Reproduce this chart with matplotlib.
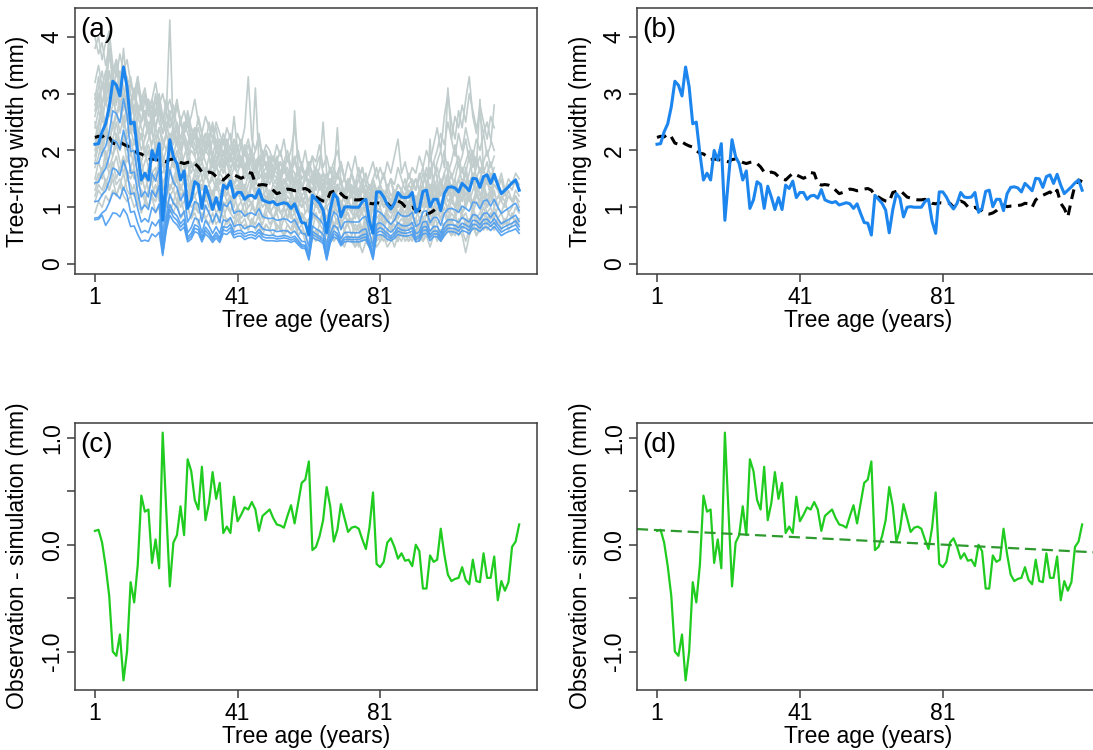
import numpy as np
import matplotlib
matplotlib.use("Agg")
import matplotlib.pyplot as plt

plt.rcParams['font.family'] = ['Liberation Sans', 'DejaVu Sans']

# ---------------- data ----------------
x_ticks = [1, 41, 81]
x_tick_labels = ["1", "41", "81"]
xlabel = "Tree age (years)"
ylabel_top = "Tree-ring width (mm)"
ylabel_bottom = "Observation - simulation (mm)"
panel_labels = ["(a)", "(b)", "(c)", "(d)"]

# observed (thick blue) tree-ring width, ages 1..120
obs_width = [2.11, 2.12, 2.33, 2.47, 2.77, 3.22, 3.15, 2.96, 3.47, 3.12,
             2.47, 2.50, 1.95, 1.48, 1.60, 1.48, 2.00, 1.83, 2.12, 0.77,
             1.50, 2.19, 1.89, 1.77, 1.48, 1.64, 0.98, 1.13, 1.45, 1.40,
             0.98, 1.37, 1.18, 0.96, 1.17, 0.96, 1.39, 1.33, 1.46, 1.17,
             1.26, 1.26, 1.14, 1.20, 1.21, 1.16, 1.31, 1.13, 1.10, 1.08,
             1.10, 1.04, 1.06, 1.08, 1.06, 0.98, 1.06, 0.89, 0.73, 0.72,
             0.51, 1.21, 1.14, 1.07, 0.95, 0.55, 0.96, 1.24, 1.16, 0.83,
             1.00, 1.01, 1.00, 1.00, 1.00, 1.10, 1.14, 0.75, 0.54, 1.27,
             1.27, 1.18, 1.05, 0.97, 1.07, 1.26, 1.18, 1.17, 1.18, 1.26,
             0.91, 0.98, 1.28, 1.30, 1.01, 1.14, 1.14, 0.94, 1.24, 1.35,
             1.36, 1.34, 1.27, 1.42, 1.36, 1.29, 1.51, 1.50, 1.35, 1.54,
             1.57, 1.42, 1.58, 1.39, 1.24, 1.30, 1.36, 1.43, 1.48, 1.30]

# dashed black curve
sim_width = [2.23, 2.25, 2.24, 2.29, 2.24, 2.13, 2.11, 2.15, 2.11, 2.08,
             2.06, 2.00, 1.95, 1.94, 1.89, 1.84, 1.85, 1.84, 1.83, 1.82,
             1.80, 1.84, 1.85, 1.82, 1.79, 1.77, 1.79, 1.80, 1.77, 1.71,
             1.62, 1.60, 1.62, 1.60, 1.54, 1.51, 1.48, 1.54, 1.60, 1.57,
             1.54, 1.51, 1.54, 1.61, 1.60, 1.42, 1.39, 1.40, 1.39, 1.36,
             1.30, 1.24, 1.26, 1.30, 1.32, 1.31, 1.29, 1.30, 1.32, 1.33,
             1.30, 1.21, 1.18, 1.14, 1.11, 1.10, 1.26, 1.28, 1.30, 1.24,
             1.18, 1.16, 1.14, 1.13, 1.13, 1.14, 1.11, 1.07, 1.06, 1.08,
             1.07, 1.08, 1.07, 1.00, 1.04, 1.11, 1.08, 1.01, 0.98, 1.00,
             0.95, 0.94, 0.89, 0.88, 0.90, 0.94, 1.00, 1.04, 1.01, 1.02,
             1.02, 1.03, 1.04, 1.07, 1.06, 1.00, 1.13, 1.18, 1.21, 1.24,
             1.27, 1.21, 1.30, 1.07, 0.98, 0.83, 1.13, 1.39, 1.48, 1.45]
sim_len_panel_a = 98

# residuals (green)
residual = [0.13, 0.14, 0.02, -0.20, -0.48, -1.00, -1.04, -0.84, -1.27, -1.00,
            -0.35, -0.54, -0.19, 0.46, 0.31, 0.33, -0.17, 0.05, -0.22, 1.05,
            0.32, -0.39, 0.02, 0.09, 0.36, 0.09, 0.80, 0.69, 0.42, 0.33,
            0.73, 0.23, 0.39, 0.68, 0.43, 0.58, 0.11, 0.17, 0.11, 0.45,
            0.22, 0.28, 0.35, 0.33, 0.40, 0.33, 0.13, 0.27, 0.30, 0.33,
            0.25, 0.19, 0.18, 0.16, 0.27, 0.37, 0.20, 0.39, 0.58, 0.61,
            0.78, -0.05, -0.02, 0.08, 0.23, 0.54, 0.36, 0.03, 0.14, 0.38,
            0.25, 0.12, 0.16, 0.17, 0.15, 0.05, -0.04, 0.16, 0.49, -0.18,
            -0.21, -0.16, 0.02, 0.06, -0.02, -0.13, -0.08, -0.15, -0.14, -0.20,
            0.00, -0.06, -0.41, -0.41, -0.10, -0.16, -0.14, 0.15, -0.09, -0.28,
            -0.34, -0.32, -0.31, -0.21, -0.33, -0.37, -0.14, -0.34, -0.35, -0.08,
            -0.31, -0.31, -0.11, -0.52, -0.34, -0.43, -0.35, -0.02, 0.03, 0.19]

trend_intercept = 0.139
trend_slope = -0.0017

# thinner blue series (panel a)
blue_thin_1 = [1.77, 1.78, 1.96, 2.07, 2.33, 2.70, 2.65, 2.49, 2.91, 2.62,
               1.98, 2.00, 1.56, 1.18, 1.28, 1.18, 1.60, 1.46, 1.70, 0.45,
               1.14, 1.66, 1.44, 1.35, 1.12, 1.25, 0.74, 0.86, 1.10, 1.06,
               0.74, 1.04, 0.90, 0.73, 0.89, 0.73, 1.06, 1.01, 1.11, 0.89,
               0.93, 0.93, 0.84, 0.89, 0.90, 0.86, 0.97, 0.84, 0.81, 0.80,
               0.81, 0.77, 0.78, 0.80, 0.78, 0.73, 0.78, 0.66, 0.54, 0.53,
               0.30, 0.90, 0.84, 0.79, 0.70, 0.30, 0.71, 0.92, 0.86, 0.61,
               0.74, 0.75, 0.74, 0.74, 0.74, 0.81, 0.84, 0.56, 0.30, 0.94,
               0.91, 0.85, 0.76, 0.70, 0.77, 0.91, 0.85, 0.84, 0.85, 0.91,
               0.66, 0.71, 0.92, 0.94, 0.73, 0.82, 0.82, 0.68, 0.89, 0.97,
               0.98, 0.96, 0.91, 1.02, 0.98, 0.93, 1.09, 1.08, 0.97, 1.11,
               1.13, 1.02, 1.14, 1.00, 0.89, 0.94, 0.98, 1.03, 1.07, 0.94]
blue_thin_2 = [1.43, 1.44, 1.59, 1.68, 1.89, 2.19, 2.15, 2.02, 2.36, 2.12,
               1.60, 1.62, 1.26, 0.96, 1.04, 0.96, 1.30, 1.18, 1.38, 0.30,
               0.84, 1.23, 1.07, 1.00, 0.83, 0.93, 0.55, 0.64, 0.81, 0.78,
               0.55, 0.77, 0.67, 0.54, 0.66, 0.54, 0.78, 0.75, 0.82, 0.66,
               0.69, 0.69, 0.62, 0.66, 0.67, 0.64, 0.72, 0.62, 0.60, 0.59,
               0.60, 0.57, 0.58, 0.59, 0.58, 0.54, 0.58, 0.49, 0.40, 0.39,
               0.20, 0.67, 0.62, 0.58, 0.52, 0.20, 0.53, 0.68, 0.64, 0.45,
               0.55, 0.56, 0.55, 0.55, 0.55, 0.60, 0.62, 0.41, 0.20, 0.70,
               0.73, 0.68, 0.61, 0.56, 0.62, 0.73, 0.68, 0.67, 0.68, 0.73,
               0.53, 0.57, 0.74, 0.75, 0.58, 0.66, 0.66, 0.54, 0.71, 0.78,
               0.78, 0.77, 0.73, 0.82, 0.78, 0.74, 0.87, 0.86, 0.78, 0.89,
               0.90, 0.82, 0.91, 0.80, 0.71, 0.75, 0.78, 0.82, 0.86, 0.75]
blue_thin_3 = [1.10, 1.11, 1.22, 1.29, 1.46, 1.69, 1.66, 1.56, 1.82, 1.63,
               1.23, 1.25, 0.97, 0.74, 0.80, 0.74, 1.00, 0.91, 1.06, 0.22,
               0.71, 1.05, 0.91, 0.85, 0.71, 0.79, 0.47, 0.54, 0.69, 0.66,
               0.47, 0.65, 0.57, 0.46, 0.56, 0.46, 0.66, 0.64, 0.70, 0.56,
               0.59, 0.59, 0.53, 0.56, 0.57, 0.54, 0.61, 0.53, 0.51, 0.50,
               0.51, 0.48, 0.49, 0.50, 0.49, 0.46, 0.49, 0.42, 0.34, 0.33,
               0.12, 0.57, 0.53, 0.49, 0.44, 0.12, 0.45, 0.58, 0.54, 0.38,
               0.47, 0.48, 0.47, 0.47, 0.47, 0.51, 0.53, 0.35, 0.14, 0.60,
               0.64, 0.60, 0.54, 0.49, 0.55, 0.64, 0.60, 0.59, 0.60, 0.64,
               0.47, 0.50, 0.65, 0.66, 0.51, 0.58, 0.58, 0.48, 0.62, 0.69,
               0.69, 0.68, 0.64, 0.72, 0.69, 0.65, 0.77, 0.76, 0.69, 0.78,
               0.79, 0.72, 0.80, 0.70, 0.62, 0.66, 0.69, 0.72, 0.76, 0.66]
blue_thin_4 = [0.81, 0.82, 0.90, 0.95, 1.08, 1.25, 1.23, 1.15, 1.35, 1.21,
               0.91, 0.93, 0.72, 0.55, 0.59, 0.55, 0.74, 0.67, 0.78, 0.18,
               0.65, 0.96, 0.83, 0.77, 0.65, 0.72, 0.43, 0.49, 0.63, 0.60,
               0.43, 0.59, 0.52, 0.42, 0.51, 0.42, 0.60, 0.58, 0.64, 0.51,
               0.54, 0.54, 0.48, 0.51, 0.52, 0.49, 0.56, 0.48, 0.46, 0.46,
               0.46, 0.44, 0.45, 0.46, 0.45, 0.42, 0.45, 0.38, 0.31, 0.30,
               0.09, 0.52, 0.48, 0.45, 0.40, 0.09, 0.41, 0.53, 0.49, 0.35,
               0.43, 0.44, 0.43, 0.43, 0.43, 0.46, 0.48, 0.32, 0.10, 0.55,
               0.58, 0.55, 0.49, 0.45, 0.50, 0.58, 0.55, 0.54, 0.55, 0.58,
               0.43, 0.46, 0.59, 0.60, 0.46, 0.53, 0.53, 0.44, 0.56, 0.63,
               0.63, 0.62, 0.58, 0.66, 0.63, 0.59, 0.70, 0.69, 0.63, 0.71,
               0.72, 0.66, 0.73, 0.64, 0.56, 0.60, 0.63, 0.66, 0.69, 0.60]
blue_thin_5 = [0.78, 0.79, 0.86, 0.68, 0.78, 0.90, 0.89, 0.83, 0.97, 0.87,
               0.66, 0.67, 0.52, 0.40, 0.42, 0.40, 0.53, 0.48, 0.56, 0.15,
               0.59, 0.86, 0.75, 0.69, 0.59, 0.65, 0.39, 0.44, 0.57, 0.54,
               0.39, 0.53, 0.47, 0.38, 0.46, 0.38, 0.54, 0.52, 0.58, 0.46,
               0.49, 0.49, 0.43, 0.46, 0.47, 0.44, 0.50, 0.43, 0.41, 0.41,
               0.41, 0.40, 0.41, 0.41, 0.41, 0.38, 0.41, 0.34, 0.28, 0.27,
               0.07, 0.47, 0.43, 0.41, 0.36, 0.07, 0.37, 0.48, 0.44, 0.32,
               0.39, 0.40, 0.39, 0.39, 0.39, 0.41, 0.43, 0.29, 0.08, 0.50,
               0.52, 0.50, 0.44, 0.41, 0.45, 0.52, 0.50, 0.49, 0.50, 0.52,
               0.39, 0.41, 0.53, 0.54, 0.41, 0.48, 0.48, 0.40, 0.50, 0.57,
               0.57, 0.56, 0.52, 0.59, 0.57, 0.53, 0.63, 0.62, 0.57, 0.64,
               0.65, 0.59, 0.66, 0.58, 0.50, 0.54, 0.57, 0.59, 0.62, 0.54]

# grey individual series (panel a)
grey_01 = [3.8, 4.0, 3.6, 3.9, 4.1, 3.5, 3.3, 3.7, 3.4, 3.6, 3.2, 3.0, 3.3, 2.9, 3.1, 2.7, 2.9, 3.2, 2.8, 3.0,
           2.7, 2.9, 2.6, 2.8, 2.5, 2.7, 2.4, 2.6, 2.9, 2.5, 2.3, 2.6, 2.4, 2.2, 2.5, 2.3, 2.1, 2.4, 2.2, 2.0,
           2.3, 2.1, 2.4, 3.3, 2.2, 2.0, 2.3, 1.9, 2.1, 2.0, 1.8, 2.1, 1.9, 2.2, 1.8, 2.0, 2.4, 1.9, 1.7, 2.0,
           1.6, 1.9, 1.8, 2.1, 1.7, 1.9, 1.6, 1.8, 2.0, 1.7, 1.5, 1.8, 1.6, 1.9, 1.5, 1.7, 1.4, 1.6, 1.8, 1.5,
           1.7, 1.5, 1.8, 1.6, 1.9, 2.2, 1.6, 1.8, 1.5, 1.7, 1.6, 1.9, 1.7, 2.0, 1.8, 2.1, 2.4, 2.0, 2.6, 3.0,
           2.5, 2.2, 2.7, 2.4, 2.9, 3.3, 2.6, 2.3, 2.8, 2.5, 2.2, 2.6, 2.4]
grey_02 = [3.2, 3.5, 3.1, 3.4, 3.0, 3.3, 3.6, 3.2, 2.9, 3.3, 3.0, 2.7, 3.1, 2.8, 2.6, 2.9, 2.5, 2.7, 3.0, 2.6,
           2.4, 2.7, 2.3, 2.5, 2.2, 2.4, 2.6, 2.2, 2.4, 2.1, 2.3, 2.0, 2.2, 2.4, 2.0, 2.2, 1.9, 2.1, 2.3, 1.9,
           2.1, 1.8, 2.0, 2.2, 1.9, 3.1, 1.8, 2.0, 1.7, 1.9, 1.7, 1.9, 1.6, 1.8, 2.0, 1.7, 1.9, 1.6, 1.8, 1.5,
           1.7, 1.9, 1.5, 1.7, 2.5, 1.6, 1.4, 1.7, 1.5, 1.8, 1.5, 1.3, 1.6, 1.4, 1.7, 1.4, 1.6, 1.3, 1.5, 1.7,
           1.4, 1.6, 1.3, 1.5, 1.4, 1.7, 1.5, 1.3, 1.6, 1.4, 1.5, 1.3, 1.6, 1.4, 1.7, 1.5, 1.8, 2.0, 1.7, 3.1,
           2.2, 1.9, 2.3, 2.0, 2.4, 2.1, 1.9, 2.2, 2.0, 2.3, 1.9, 2.1, 2.8]
grey_03 = [2.9, 3.3, 2.8, 3.1, 3.4, 2.9, 3.2, 2.8, 3.0, 2.7, 2.9, 2.6, 2.8, 2.5, 2.7, 2.4, 2.6, 2.9, 2.5, 2.3,
           2.6, 4.3, 2.2, 2.4, 2.1, 2.3, 2.5, 2.1, 2.0, 2.2, 1.9, 2.1, 2.3, 1.9, 1.8, 2.0, 2.2, 1.8, 1.9, 1.7,
           1.9, 1.8, 2.0, 1.7, 1.9, 1.6, 1.8, 1.7, 1.5, 1.8, 1.6, 1.7, 1.5, 1.8, 1.6, 1.4, 2.7, 1.7, 1.5, 1.6,
           1.4, 1.6, 1.5, 1.3, 1.6, 1.4, 1.5, 1.3, 1.6, 1.4, 1.2, 1.5, 1.3, 1.4, 1.2, 1.4, 1.3, 1.1, 1.4, 1.2,
           1.3, 1.1, 1.4, 1.2, 1.3, 1.1, 1.3, 1.2, 1.0, 1.3, 1.1, 1.3, 1.2, 1.4, 1.1, 1.3, 1.5, 1.2, 1.4, 1.6,
           1.3, 1.5, 1.2, 1.4, 1.6, 1.3, 1.5, 1.2, 1.4, 1.3, 1.5, 1.2, 1.4, 1.3, 1.5, 1.2, 1.4, 1.3, 1.5, 1.4]
grey_04 = [2.6, 2.9, 3.2, 2.8, 3.0, 3.4, 2.9, 3.1, 2.7, 3.0, 2.8, 3.1, 2.6, 2.9, 2.5, 2.8, 2.4, 2.7, 2.9, 2.5,
           2.3, 2.6, 2.8, 2.4, 2.2, 2.5, 2.3, 2.1, 2.4, 2.2, 2.0, 2.3, 2.1, 1.9, 2.2, 2.0, 1.8, 2.1, 1.9, 2.0,
           1.8, 2.1, 1.7, 1.9, 1.8, 1.6, 1.9, 1.7, 1.8, 1.6, 1.5, 1.8, 1.6, 1.7, 1.5, 1.7, 1.6, 1.4, 1.7, 1.5,
           1.6, 1.4, 1.7, 1.5, 1.3, 1.6, 1.4, 1.5, 2.4, 1.4, 1.3, 1.5, 1.2, 1.4, 1.3, 1.5, 1.2, 1.4, 1.3, 1.1,
           1.4, 1.2, 1.3, 1.5, 1.2, 1.4, 1.3, 1.2, 1.4, 1.5, 1.3, 1.6, 1.4, 1.7, 1.5, 1.8, 2.0, 2.3, 2.1, 2.5,
           2.2, 2.6, 2.4, 2.8, 2.5, 3.0, 2.7, 2.4, 2.6, 2.3, 2.5, 2.2, 2.0]
grey_05 = [2.4, 2.7, 2.5, 2.9, 2.6, 2.8, 3.1, 2.7, 2.5, 2.8, 2.5, 2.3, 2.6, 2.4, 2.2, 2.5, 2.3, 2.1, 2.4, 2.2,
           2.0, 2.3, 2.1, 2.4, 2.0, 2.2, 1.9, 2.1, 2.3, 1.9, 1.8, 2.0, 1.9, 1.7, 2.0, 1.8, 1.6, 1.9, 1.7, 1.8,
           1.6, 1.8, 1.5, 1.7, 1.6, 1.8, 1.5, 1.6, 1.4, 1.7, 1.5, 1.4, 1.6, 1.3, 1.5, 1.7, 1.4, 1.6, 1.3, 1.5,
           1.4, 1.2, 1.5, 1.3, 1.4, 1.6, 1.3, 1.2, 1.4, 1.3, 1.1, 1.3, 1.2, 1.4, 1.1, 1.3, 1.2, 1.0, 1.3, 1.1,
           1.2, 1.0, 1.3, 1.1, 1.2, 1.0, 1.2, 1.1, 1.3, 1.0, 1.2, 1.1, 1.3, 1.0, 1.2, 1.1, 1.4, 1.2, 1.3, 1.5,
           1.2, 1.4, 1.3, 1.5, 1.2, 1.4, 1.6, 1.3, 1.5, 1.4, 1.6, 1.3, 1.5, 1.4, 1.6, 1.3, 1.5, 1.4, 1.6, 1.5]
grey_06 = [2.2, 2.5, 2.8, 2.4, 2.7, 3.0, 2.6, 2.9, 2.5, 2.7, 2.4, 2.6, 2.3, 2.5, 2.7, 2.3, 2.1, 2.4, 2.2, 2.0,
           2.3, 2.1, 1.9, 2.2, 2.0, 2.2, 1.8, 2.0, 1.9, 1.7, 2.0, 1.8, 1.6, 1.9, 1.7, 1.8, 1.6, 1.8, 1.5, 1.7,
           1.6, 1.4, 1.7, 1.5, 1.6, 1.4, 1.6, 1.5, 1.3, 1.6, 1.4, 1.5, 1.3, 1.5, 1.4, 1.2, 1.5, 1.3, 1.4, 1.2,
           1.4, 1.3, 1.1, 1.4, 1.2, 1.3, 1.1, 1.3, 1.2, 1.0, 1.3, 1.1, 1.2, 1.0, 1.2, 1.1, 0.9, 1.2, 1.0, 1.1,
           1.0, 1.2, 0.9, 1.1, 1.0, 1.2, 0.9, 1.1, 1.0, 1.2, 1.1, 1.3, 1.0, 1.2, 1.4, 1.1, 1.3, 1.5, 1.2, 1.4,
           1.6, 1.3, 1.5, 1.7, 1.4, 1.6, 1.9, 1.5, 1.7, 1.4, 1.6, 1.8, 1.5]
grey_07 = [2.0, 2.3, 2.1, 2.5, 2.2, 2.4, 2.7, 2.3, 2.6, 2.2, 2.4, 2.1, 2.3, 2.0, 2.2, 2.4, 2.0, 1.9, 2.1, 1.8,
           2.0, 2.2, 1.8, 2.0, 1.7, 1.9, 2.1, 1.7, 1.8, 1.6, 1.8, 1.6, 1.9, 1.5, 1.7, 1.6, 1.8, 1.5, 1.6, 1.4,
           1.6, 1.5, 1.3, 1.6, 1.4, 1.5, 1.3, 1.5, 1.4, 1.2, 1.4, 1.3, 1.5, 1.2, 1.4, 1.3, 1.1, 1.4, 1.2, 1.3,
           1.1, 1.3, 1.2, 1.0, 1.3, 1.1, 1.2, 1.0, 1.2, 1.1, 0.9, 1.1, 1.0, 1.2, 0.9, 1.1, 1.0, 0.8, 1.1, 0.9,
           1.0, 0.8, 1.0, 0.9, 1.1, 0.9, 1.0, 0.8, 1.0, 0.9, 1.1, 0.9, 1.2, 1.0, 2.2, 1.1, 1.3, 1.0, 1.2, 1.4,
           1.1, 1.3, 1.0, 1.2, 1.4, 1.1, 1.3, 1.5, 1.2, 1.4, 1.1, 1.3, 1.2]
grey_08 = [2.1, 2.4, 2.8, 3.2, 4.1, 3.0, 2.6, 2.8, 2.4, 2.6, 2.3, 2.5, 2.1, 2.3, 2.0, 2.2, 2.4, 2.0, 2.2, 1.9,
           1.8, 2.0, 1.7, 1.9, 2.1, 1.7, 1.8, 1.6, 1.8, 1.5, 1.7, 1.5, 1.6, 1.8, 1.4, 1.6, 1.5, 1.3, 1.6, 1.4,
           1.5, 1.3, 1.4, 1.2, 1.5, 1.3, 1.4, 1.2, 1.3, 1.1, 1.3, 1.2, 1.4, 1.1, 1.3, 1.2, 1.0, 1.3, 1.1, 1.2,
           1.0, 1.2, 1.1, 0.9, 1.2, 1.0, 1.1, 0.9, 1.1, 1.0, 0.8, 1.0, 0.9, 1.1, 0.8, 1.0, 0.9, 0.7, 1.0, 0.8,
           0.9, 0.7, 0.9, 0.8, 1.0, 0.8, 0.9, 0.7, 0.9, 0.8, 1.0, 0.8, 0.9, 1.1, 0.9, 1.0, 1.2, 0.9, 1.1, 1.0,
           1.2, 1.0, 1.1, 1.3, 1.0, 1.2, 1.1, 1.3, 1.0, 1.2, 1.1, 1.3, 1.0, 1.2, 1.1, 1.0, 1.2, 1.1, 1.3, 1.2]
grey_09 = [1.8, 2.1, 1.9, 2.3, 2.0, 2.2, 2.5, 2.1, 2.3, 2.0, 2.2, 1.9, 2.1, 1.8, 2.0, 1.7, 1.9, 2.1, 1.7, 1.6,
           1.8, 1.6, 1.9, 1.5, 1.7, 1.6, 1.8, 1.4, 1.6, 1.5, 1.3, 1.6, 1.4, 1.5, 1.3, 1.5, 1.4, 1.2, 1.5, 1.3,
           1.4, 1.2, 1.3, 1.1, 1.4, 1.2, 1.3, 1.1, 1.2, 1.0, 1.2, 1.1, 1.3, 1.0, 1.2, 1.1, 0.9, 1.2, 1.0, 1.1,
           0.9, 1.1, 1.0, 1.2, 0.9, 1.0, 0.8, 1.1, 0.9, 1.0, 0.8, 0.9, 0.7, 1.0, 0.8, 0.9, 0.7, 0.9, 0.8, 0.6,
           0.9, 0.7, 0.8, 0.6, 0.9, 0.7, 0.8, 0.7, 0.9, 0.7, 0.8, 1.0, 0.8, 0.9, 1.1, 0.8, 1.0, 0.9, 1.2, 0.9,
           1.1, 1.0, 1.2, 0.9, 1.1, 1.3, 1.0, 1.2, 1.1, 1.3, 1.0, 1.2, 1.1]
grey_10 = [1.7, 1.9, 2.2, 1.8, 2.1, 1.9, 2.3, 2.0, 2.2, 1.8, 2.0, 1.7, 1.9, 1.6, 1.8, 2.0, 1.6, 1.7, 1.5, 1.8,
           1.5, 1.7, 1.4, 1.6, 1.8, 1.4, 1.5, 1.3, 1.6, 1.4, 1.5, 1.3, 1.4, 1.2, 1.5, 1.3, 1.2, 1.4, 1.1, 1.3,
           1.2, 1.4, 1.1, 1.2, 1.0, 1.3, 1.1, 1.2, 1.0, 1.2, 1.1, 0.9, 1.2, 1.0, 1.1, 0.9, 1.1, 1.0, 1.2, 0.9,
           1.0, 0.8, 1.1, 0.9, 1.0, 0.8, 1.0, 0.9, 0.7, 1.0, 0.8, 0.9, 0.7, 0.9, 0.8, 0.6, 0.9, 0.7, 0.8, 0.6,
           0.8, 0.7, 0.9, 0.6, 0.8, 0.7, 0.6, 0.8, 0.7, 0.9, 0.7, 0.8, 0.6, 0.9, 0.7, 0.8, 1.0, 0.8, 0.9, 0.7,
           0.9, 0.8, 1.0, 0.8, 0.9, 0.7, 1.0, 0.8, 0.9, 1.1, 0.9, 1.0, 0.8, 1.0, 0.9, 1.1, 0.9, 1.0, 1.2, 1.1]
grey_11 = [1.5, 1.8, 1.6, 2.0, 1.7, 1.9, 2.1, 1.8, 1.6, 1.9, 1.7, 1.9, 1.6, 1.8, 1.5, 1.7, 1.4, 1.6, 1.8, 1.4,
           1.6, 1.3, 1.5, 1.7, 1.3, 1.5, 1.4, 1.2, 1.5, 1.3, 1.4, 1.2, 1.3, 1.1, 1.4, 1.2, 1.3, 1.1, 1.2, 1.0,
           1.3, 1.1, 1.2, 1.0, 1.1, 0.9, 1.2, 1.0, 1.1, 0.9, 1.0, 1.2, 0.9, 1.0, 0.8, 1.1, 0.9, 1.0, 0.8, 0.9,
           1.0, 0.8, 0.9, 0.7, 1.0, 0.8, 0.9, 0.7, 0.8, 0.6, 0.9, 0.7, 0.8, 0.6, 0.7, 0.5, 0.8, 0.6, 0.7, 0.5,
           0.7, 0.6, 0.8, 0.6, 0.7, 0.5, 0.7, 0.6, 0.8, 0.6, 0.7, 0.5, 0.8, 0.6, 0.7, 0.9, 0.7, 0.8, 0.6, 0.8,
           0.7, 0.9, 0.6, 0.5, 0.2, 0.5, 0.9, 0.7, 0.8, 1.0, 0.8, 0.9, 0.7]
grey_12 = [1.4, 1.6, 1.5, 1.8, 1.6, 1.7, 1.9, 1.6, 1.8, 1.5, 1.7, 1.5, 1.6, 1.4, 1.6, 1.3, 1.5, 1.6, 1.3, 1.4,
           1.2, 1.4, 1.3, 1.5, 1.2, 1.3, 1.1, 1.4, 1.2, 1.3, 1.1, 1.2, 1.0, 1.3, 1.1, 1.2, 1.0, 1.1, 0.9, 1.2,
           1.0, 1.1, 0.9, 1.0, 1.1, 0.9, 1.0, 0.8, 1.0, 0.9, 0.8, 1.0, 0.9, 0.8, 1.0, 0.8, 0.9, 0.7, 0.9, 0.8,
           0.7, 0.9, 0.8, 0.7, 0.9, 0.7, 0.8, 0.6, 0.8, 0.7, 0.6, 0.8, 0.7, 0.5, 0.7, 0.6, 0.4, 0.7, 0.6, 0.5,
           0.7, 0.5, 0.6, 0.7, 0.5, 0.6, 0.5, 0.7, 0.6, 0.5, 0.6, 0.7, 0.5, 0.6, 0.8, 0.6, 0.7, 0.5, 0.7, 0.6,
           0.8, 0.6, 0.7, 0.9, 0.7, 0.8, 0.6, 0.8, 0.7, 0.9, 0.7, 0.8, 1.0, 0.8, 0.9, 0.7, 0.9, 0.8, 1.0, 0.9]
grey_13 = [1.2, 1.4, 1.3, 1.5, 1.3, 1.6, 1.4, 1.5, 1.3, 1.5, 1.4, 1.2, 1.4, 1.3, 1.1, 1.3, 1.2, 1.4, 1.1, 1.2,
           1.0, 1.2, 1.1, 1.3, 1.0, 1.1, 1.2, 1.0, 1.1, 0.9, 1.1, 1.0, 0.9, 1.1, 0.9, 1.0, 0.8, 1.0, 0.9, 0.8,
           1.0, 0.8, 0.9, 0.8, 0.7, 0.9, 0.8, 0.7, 0.9, 0.7, 0.8, 0.7, 0.6, 0.8, 0.7, 0.6, 0.8, 0.6, 0.7, 0.5,
           0.7, 0.6, 0.5, 0.7, 0.6, 0.7, 0.5, 0.6, 0.5, 0.4, 0.6, 0.5, 0.4, 0.5, 0.3, 0.5, 0.4, 0.3, 0.5, 0.4,
           0.5, 0.4, 0.6, 0.4, 0.5, 0.4, 0.6, 0.5, 0.4, 0.5, 0.4, 0.6, 0.4, 0.5, 0.3, 0.5, 0.6, 0.4, 0.5, 0.6,
           0.5, 0.7, 0.5, 0.6, 0.4, 0.6, 0.7, 0.5, 0.6, 0.8, 0.6, 0.7, 0.6]
grey_14 = [4.0, 3.7, 3.9, 3.5, 3.8, 3.4, 3.6, 3.2, 3.5, 3.1, 3.3, 2.9, 3.2, 2.8, 3.0, 2.7, 2.9, 2.6, 2.8, 2.5,
           2.7, 2.4, 2.6, 2.9, 2.5, 2.3, 2.5, 2.2, 2.4, 2.1, 2.3, 2.0, 2.2, 2.5, 2.1, 1.9, 2.2, 2.0, 1.8, 2.1,
           1.9, 1.7, 2.0, 1.8, 1.9, 1.7, 1.6, 1.9, 1.7, 1.8, 1.6, 1.5, 1.8, 1.6, 1.7, 1.5, 1.4, 1.7, 1.5, 1.6,
           1.4, 1.3, 1.6, 1.4, 1.5, 1.3, 1.5, 1.2, 1.4, 1.3, 1.2, 1.4, 1.2, 1.3, 1.1, 1.3, 1.2, 1.0, 1.3, 1.1,
           1.2, 1.0, 1.2, 1.1, 1.3, 1.0, 1.2, 1.1, 1.0, 1.2, 1.0, 1.1, 1.3, 1.0, 1.2, 1.4, 1.1, 1.3, 1.6, 1.2,
           1.4, 1.2, 1.5, 1.3, 1.7, 1.4, 1.6, 1.3, 1.5, 1.7, 1.4, 1.6, 1.5]
grey_15 = [2.7, 3.0, 2.6, 2.9, 3.2, 2.8, 3.5, 3.0, 3.8, 3.1, 2.8, 3.0, 2.6, 2.8, 2.5, 2.9, 2.6, 2.4, 2.7, 2.3,
           2.5, 2.2, 2.4, 2.1, 2.6, 2.2, 2.0, 2.3, 2.1, 1.9, 2.2, 2.0, 2.1, 1.8, 2.0, 1.9, 1.7, 2.0, 1.8, 1.9,
           1.7, 1.8, 1.6, 1.9, 1.7, 1.5, 1.8, 1.6, 1.7, 1.5, 1.7, 1.6, 1.4, 1.7, 1.5, 1.6, 1.4, 1.5, 1.3, 1.6,
           1.4, 1.5, 1.3, 1.5, 1.4, 1.2, 1.5, 1.3, 1.4, 1.2, 1.3, 1.1, 1.4, 1.2, 1.3, 1.1, 1.3, 1.0, 1.2, 1.1,
           1.3, 1.1, 1.2, 1.0, 1.2, 1.1, 1.3, 1.0, 1.1, 1.2, 1.0, 1.2, 1.4, 1.1, 1.3, 1.5, 1.2, 1.4, 1.3, 1.6,
           1.3, 1.5, 1.8, 1.4, 1.6, 1.9, 1.5, 1.7, 2.9, 1.6, 1.8, 1.5, 1.7]
grey_16 = [0.9, 1.1, 1.0, 1.2, 1.1, 1.3, 1.2, 1.4, 1.2, 1.1, 1.2, 1.0, 1.1, 0.9, 1.1, 1.0, 1.2, 0.9, 1.0, 0.9,
           0.8, 1.0, 0.9, 1.1, 0.8, 0.9, 1.0, 0.8, 0.9, 0.7, 0.9, 0.8, 0.7, 0.9, 0.7, 0.8, 0.6, 0.8, 0.7, 0.6,
           0.8, 0.6, 0.7, 0.6, 0.8, 0.6, 0.7, 0.5, 0.7, 0.6, 0.5, 0.7, 0.6, 0.5, 0.6, 0.5, 0.7, 0.5, 0.6, 0.4,
           0.6, 0.5, 0.4, 0.6, 0.5, 0.4, 0.6, 0.4, 0.5, 0.4, 0.3, 0.5, 0.4, 0.3, 0.4, 0.2, 0.4, 0.3, 0.5, 0.3,
           0.4, 0.5, 0.3, 0.4, 0.5, 0.4, 0.6, 0.4, 0.5, 0.4, 0.6, 0.5, 0.4, 0.6, 0.5, 0.7, 0.5, 0.6, 0.5, 0.7,
           0.6, 0.5, 0.7, 0.6, 0.8, 0.6, 0.7, 0.5, 0.7, 0.6, 0.8, 0.7, 0.6, 0.8, 0.7, 0.8, 0.6, 0.7, 0.8, 0.7]
grey_17 = [3.0, 2.7, 3.2, 2.9, 3.4, 3.1, 2.8, 3.3, 2.9, 3.2, 2.7, 3.0, 2.8, 2.5, 2.9, 2.6, 2.8, 2.4, 2.7, 2.5,
           2.3, 2.6, 2.4, 2.2, 2.5, 2.3, 2.1, 2.4, 2.2, 2.4, 2.1, 2.3, 1.9, 2.2, 2.0, 2.1, 1.9, 2.2, 2.0, 2.6,
           2.0, 1.8, 2.1, 1.9, 2.0, 1.8, 1.9, 1.7, 2.0, 1.8, 1.9, 1.7, 1.8, 1.6, 1.9, 1.7, 1.8, 1.6, 1.7, 1.5,
           1.8, 1.6, 1.7, 1.5, 1.6, 1.4, 1.7, 1.5, 1.6, 1.4, 1.5, 1.3, 1.6, 1.4, 1.5, 1.3, 1.4, 1.2, 1.5, 1.3,
           1.4, 1.2, 1.3, 1.5, 1.2, 1.4, 1.3, 1.2, 1.4, 1.3, 1.5, 1.3, 1.4, 1.6, 1.3, 1.5, 1.7, 1.4, 1.6, 1.8,
           1.5, 1.7, 1.9, 1.6, 1.8, 2.0, 1.7, 1.9, 1.6, 1.8, 2.0, 1.7, 1.9]
grey_18 = [1.3, 1.5, 1.7, 1.4, 1.6, 1.8, 1.5, 1.7, 1.9, 1.6, 1.5, 1.7, 1.4, 1.6, 1.3, 1.5, 1.4, 1.2, 1.5, 1.3,
           1.4, 1.2, 1.3, 1.1, 1.4, 1.2, 1.3, 1.1, 1.2, 1.0, 1.2, 1.1, 1.3, 1.0, 1.1, 0.9, 1.1, 1.0, 1.2, 0.9,
           1.0, 0.9, 1.1, 0.8, 1.0, 0.9, 1.1, 0.8, 0.9, 1.0, 0.8, 0.9, 0.7, 1.0, 0.8, 0.9, 0.7, 0.8, 0.9, 0.7,
           0.8, 0.6, 0.9, 0.7, 0.8, 0.6, 0.8, 0.7, 0.6, 0.8, 0.6, 0.7, 0.5, 0.7, 0.6, 0.4, 0.7, 0.5, 0.6, 0.5,
           0.7, 0.5, 0.6, 0.7, 0.5, 0.7, 0.6, 0.8, 0.6, 0.7, 0.8, 0.6, 0.8, 0.7, 0.9, 0.7, 0.9, 0.8, 1.0, 0.8,
           1.0, 0.9, 1.1, 0.9, 1.0, 1.2, 0.9, 1.1, 1.0, 1.2, 1.0, 1.1, 1.3, 1.0, 1.2, 1.1, 1.3, 1.1, 1.2, 1.0]
grey_19 = [2.5, 2.2, 2.6, 2.3, 2.8, 2.4, 2.6, 2.9, 2.5, 2.3, 2.6, 2.8, 2.4, 2.2, 2.5, 2.3, 2.7, 2.2, 2.4, 2.1,
           2.3, 2.0, 2.4, 2.1, 1.9, 2.2, 2.0, 2.3, 1.9, 2.1, 1.8, 2.0, 2.2, 1.8, 1.9, 1.7, 2.0, 1.8, 1.6, 1.9,
           1.7, 1.9, 1.6, 1.8, 1.5, 1.7, 1.9, 1.5, 1.6, 1.4, 1.6, 1.8, 1.5, 1.4, 1.6, 1.3, 1.5, 1.7, 1.4, 1.3,
           1.5, 1.2, 1.4, 1.6, 1.3, 1.2, 1.4, 1.1, 1.3, 1.5, 1.2, 1.1, 1.3, 1.0, 1.2, 1.4, 1.1, 0.9, 1.2, 1.0,
           1.1, 1.3, 1.0, 1.1, 0.9, 1.2, 1.0, 1.1, 0.9, 1.2, 1.0, 1.1, 1.3, 1.0, 1.2, 1.1, 1.3, 1.0, 1.2, 1.4,
           1.1, 1.3, 1.2, 1.4, 1.1, 1.3, 1.5, 1.2, 1.4, 1.3, 1.5, 1.2, 1.4, 1.3, 1.1, 1.3]
grey_20 = [1.9, 2.2, 2.0, 2.4, 2.1, 2.5, 2.2, 2.0, 2.3, 2.1, 1.9, 2.2, 2.0, 2.3, 1.9, 2.1, 1.8, 2.0, 2.2, 1.8,
           1.7, 2.0, 1.8, 1.6, 1.9, 1.7, 1.5, 1.8, 1.6, 1.9, 1.5, 1.7, 1.4, 1.6, 1.8, 1.4, 1.5, 1.3, 1.6, 1.4,
           1.3, 1.5, 1.2, 1.4, 1.6, 1.3, 1.2, 1.4, 1.1, 1.3, 1.2, 1.4, 1.1, 1.3, 1.0, 1.2, 1.4, 1.1, 1.0, 1.2,
           1.1, 1.3, 1.0, 1.2, 0.9, 1.1, 1.3, 1.0, 0.9, 1.1, 1.0, 1.2, 0.9, 0.8, 1.0, 0.9, 1.1, 0.8, 0.7, 1.0,
           0.9, 0.8, 1.0, 0.9, 1.1, 0.8, 1.0, 0.9, 1.1, 0.8, 1.0, 0.9, 1.1, 1.0, 1.2, 0.9, 1.1, 1.0, 1.3, 1.1,
           1.2, 1.0, 1.3, 1.1, 1.4, 1.2, 1.0, 1.3, 1.1, 1.4, 1.2, 1.3, 1.1]
grey_21 = [2.8, 3.1, 3.4, 3.0, 3.7, 3.3, 3.0, 3.4, 3.1, 2.8, 3.2, 2.9, 3.3, 2.7, 3.0, 2.8, 2.6, 3.0, 2.7, 2.5,
           2.9, 2.6, 2.4, 2.8, 2.5, 2.3, 2.7, 2.4, 2.2, 2.6, 2.3, 2.1, 2.5, 2.2, 2.4, 2.0, 2.3, 2.1, 1.9, 2.2,
           2.0, 2.2, 1.9, 2.1, 1.8, 2.0, 2.2, 1.8, 2.0, 1.7, 1.9, 1.8, 2.0, 1.7, 1.9, 1.6, 1.8, 2.0, 1.7, 1.6,
           1.8, 1.5, 1.7, 1.9, 1.6, 1.5, 1.7, 1.4, 1.6, 1.8, 1.5, 1.4, 1.6, 1.3, 1.5, 1.7, 1.4, 1.3, 1.5, 1.2,
           1.4, 1.6, 1.3, 1.5, 1.2, 1.4, 1.3, 1.5, 1.2, 1.4, 1.3, 1.5, 1.7, 1.4, 1.6, 1.8, 1.5, 1.7, 2.0, 1.6,
           1.8, 2.1, 1.7, 1.9, 2.2, 1.8, 2.0, 1.7, 1.9, 1.6]
grey_22 = [1.1, 1.3, 1.2, 1.4, 1.3, 1.5, 1.2, 1.4, 1.6, 1.3, 1.2, 1.4, 1.1, 1.3, 1.2, 1.0, 1.2, 1.1, 1.3, 1.0,
           1.1, 0.9, 1.1, 1.0, 1.2, 0.9, 1.0, 0.8, 1.0, 0.9, 1.1, 0.8, 0.9, 0.7, 0.9, 0.8, 1.0, 0.7, 0.8, 0.7,
           0.9, 0.7, 0.8, 0.6, 0.8, 0.7, 0.9, 0.6, 0.7, 0.6, 0.8, 0.6, 0.7, 0.5, 0.7, 0.6, 0.8, 0.5, 0.6, 0.5,
           0.7, 0.5, 0.6, 0.4, 0.6, 0.5, 0.7, 0.4, 0.5, 0.4, 0.6, 0.4, 0.5, 0.3, 0.5, 0.4, 0.6, 0.3, 0.4, 0.5,
           0.4, 0.6, 0.4, 0.5, 0.3, 0.5, 0.4, 0.6, 0.4, 0.5, 0.6, 0.4, 0.5, 0.7, 0.5, 0.6, 0.4, 0.6, 0.5, 0.7,
           0.5, 0.6, 0.8, 0.6, 0.7, 0.5, 0.7, 0.6, 0.8, 0.6, 0.7, 0.9, 0.7, 0.8, 0.6, 0.8, 0.7, 0.9, 0.7, 0.8]

grey_series = [grey_01, grey_02, grey_03, grey_04, grey_05, grey_06, grey_07, grey_08, grey_09,
               grey_10, grey_11, grey_12, grey_13, grey_14, grey_15, grey_16, grey_17, grey_18,
               grey_19, grey_20, grey_21, grey_22]
blue_thin_series = [blue_thin_5, blue_thin_4, blue_thin_3, blue_thin_2, blue_thin_1]

# ---------------- style ----------------
W, H = 1093, 750
C_GREY = '#c1cdcd'
C_BLUE = '#1c86ee'
C_BLUE_THIN = '#4a9cf0'
C_GREEN = '#1fcc1f'
C_TREND = '#2e9a2e'
C_AXIS = '#3c3c3c'
TICK_FS = 16.5
LABEL_FS = 16.5
PANEL_FS = 20

fig = plt.figure(figsize=(W / 100, H / 100), dpi=100)


def add_ax(l, t, r, b):
    return fig.add_axes([l / W, 1 - b / H, (r - l) / W, (b - t) / H])


def ages(v):
    return np.arange(1, len(v) + 1)


def style(ax, yticks, yticklabels, ylim):
    ax.set_xlim(-4.6, 125.0)
    ax.set_ylim(*ylim)
    ax.set_xticks(x_ticks)
    ax.set_xticklabels(x_tick_labels)
    ax.set_yticks(yticks)
    ax.set_yticklabels(yticklabels)
    for s in ax.spines.values():
        s.set_color(C_AXIS)
        s.set_linewidth(1.1)
    ax.tick_params(axis='both', direction='out', length=5.5, width=1.1,
                   color=C_AXIS, labelsize=TICK_FS, labelcolor='black')
    ax.tick_params(axis='x', pad=3)
    ax.tick_params(axis='y', pad=2.5, labelrotation=90)
    for lab in ax.get_yticklabels():
        lab.set_va('center')


ax_a = add_ax(75, 8, 537, 274)
ax_b = add_ax(637, 8, 1100, 274)
ax_c = add_ax(75, 423, 537, 690)
ax_d = add_ax(637, 423, 1100, 690)

# panel a
for g in grey_series:
    ax_a.plot(ages(g), g, color=C_GREY, lw=1.2, zorder=1)
ax_a.plot(ages(sim_width)[:sim_len_panel_a], sim_width[:sim_len_panel_a],
          color='black', lw=2.2, dashes=(3.2, 2.2), zorder=2)
for bt in blue_thin_series:
    ax_a.plot(ages(bt), bt, color=C_BLUE_THIN, lw=1.2, alpha=0.9, zorder=3)
ax_a.plot(ages(obs_width), obs_width, color=C_BLUE, lw=2.2, zorder=4)

# panel b
ax_b.plot(ages(sim_width), sim_width, color='black', lw=2.2, dashes=(3.2, 2.2), zorder=2)
ax_b.plot(ages(obs_width), obs_width, color=C_BLUE, lw=2.2, zorder=3)

# panels c, d
ax_c.plot(ages(residual), residual, color=C_GREEN, lw=1.6)
ax_d.plot(ages(residual), residual, color=C_GREEN, lw=1.6)
ax_d.axline((0, trend_intercept), slope=trend_slope, color=C_TREND, lw=1.6,
            dashes=(5, 2.6))

top_ylim = (-0.176, 4.51)
bot_ylim = (-1.36, 1.14)
for ax in (ax_a, ax_b):
    style(ax, [0, 1, 2, 3, 4], ["0", "1", "2", "3", "4"], top_ylim)
for ax in (ax_c, ax_d):
    style(ax, [-1, -0.5, 0, 0.5, 1], ["-1.0", "", "0.0", "", "1.0"], bot_ylim)

for ax, lab in zip((ax_a, ax_b, ax_c, ax_d), panel_labels):
    ax.text(0.011, 0.967, lab, transform=ax.transAxes, ha='left', va='top',
            fontsize=PANEL_FS)


# axis labels (figure pixel positions)
def fig_text(px, py, s, rot=0):
    fig.text(px / W, 1 - py / H, s, ha='center', va='center', rotation=rot,
             fontsize=LABEL_FS)


fig_text(306, 321, xlabel)
fig_text(868, 321, xlabel)
fig_text(306, 737, xlabel)
fig_text(868, 737, xlabel)
fig_text(18, 141, ylabel_top, 90)
fig_text(580, 141, ylabel_top, 90)
fig_text(18, 556, ylabel_bottom, 90)
fig_text(580, 556, ylabel_bottom, 90)

fig.savefig("out.png", dpi=100)
